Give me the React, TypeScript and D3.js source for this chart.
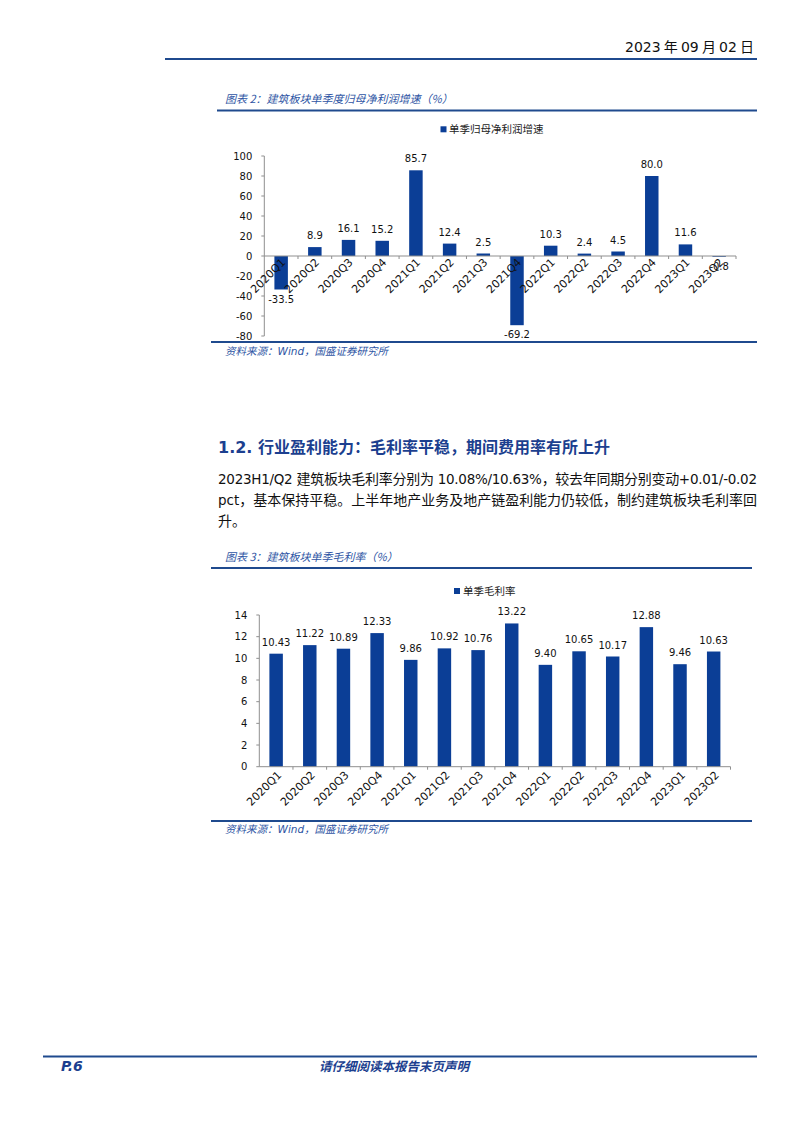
import React from "react";
import * as d3 from "d3";

const categories = ["2020Q1","2020Q2","2020Q3","2020Q4","2021Q1","2021Q2","2021Q3","2021Q4","2022Q1","2022Q2","2022Q3","2022Q4","2023Q1","2023Q2"];
const profitGrowth = [-33.5, 8.9, 16.1, 15.2, 85.7, 12.4, 2.5, -69.2, 10.3, 2.4, 4.5, 80.0, 11.6, -0.8];
const grossMargin = [10.43, 11.22, 10.89, 12.33, 9.86, 10.92, 10.76, 13.22, 9.40, 10.65, 10.17, 12.88, 9.46, 10.63];
const profitTicks = [-80, -60, -40, -20, 0, 20, 40, 60, 80, 100];
const marginTicks = [0, 2, 4, 6, 8, 10, 12, 14];

const BAR = "#0B3E96";
const LINE = "#1F4A8E";
const TITLE = "#2E55A4";
const AXIS = "#8f8f8f";
const NUM_FONT = "'DejaVu Sans', Verdana, sans-serif";
const CJK = "'Noto Sans CJK SC', sans-serif";

type ChartProps = {
  values: number[];
  yTicks: number[];
  domain: [number, number];
  xRange: [number, number];
  yRange: [number, number];
  digits: number;
  labelDx: number;
  labelDy: number;
};

function BarChart({ values, yTicks, domain, xRange, yRange, digits, labelDx, labelDy }: ChartProps) {
  const x = d3.scaleBand<string>().domain(categories).range(xRange).paddingInner(0.6).paddingOuter(0.3);
  const y = d3.scaleLinear().domain(domain).range(yRange);
  const y0 = y(0);
  const step = x.step();
  return (
    <g>
      {values.map((v, i) => {
        const c = categories[i];
        const top = Math.min(y(v), y0);
        const h = Math.abs(y(v) - y0);
        return <rect key={c} x={x(c)} y={top} width={x.bandwidth()} height={h} fill={BAR} />;
      })}
      <line x1={xRange[0]} x2={xRange[0]} y1={yRange[0]} y2={yRange[1]} stroke={AXIS} strokeWidth={1} />
      {yTicks.map((t) => (
        <g key={t}>
          <line x1={xRange[0] - 3} x2={xRange[0]} y1={y(t)} y2={y(t)} stroke={AXIS} />
          <text x={xRange[0] - 12} y={y(t)} dy="0.35em" textAnchor="end" fontFamily={NUM_FONT} fontSize={10} fill="#111">{t}</text>
        </g>
      ))}
      <line x1={xRange[0]} x2={xRange[1]} y1={y0} y2={y0} stroke={AXIS} strokeWidth={1} />
      {categories.map((c, i) => (
        <line key={"t" + c} x1={xRange[0] + step * (i + 1)} x2={xRange[0] + step * (i + 1)} y1={y0} y2={y0 + 3} stroke={AXIS} />
      ))}
      {categories.map((c) => {
        const cx = (x(c) as number) + x.bandwidth() / 2 + labelDx;
        const cy = y0 + labelDy;
        return (
          <text key={"l" + c} x={cx} y={cy} textAnchor="end" transform={`rotate(-45 ${cx} ${cy})`} fontFamily={NUM_FONT} fontSize={11} fill="#111">{c}</text>
        );
      })}
      {values.map((v, i) => {
        const c = categories[i];
        const cx = (x(c) as number) + x.bandwidth() / 2;
        const ly = v >= 0 ? y(v) - 8 : y(v) + 13;
        return (
          <text key={"v" + c} x={cx} y={ly} textAnchor="middle" fontFamily={NUM_FONT} fontSize={10} fill="#111">{v.toFixed(digits)}</text>
        );
      })}
    </g>
  );
}

export default function App() {
  return (
    <svg width={802} height={1133} style={{ position: "absolute", left: 0, top: 0, display: "block", background: "#fff" }}>
      <text x={754} y={52} textAnchor="end" fontFamily={NUM_FONT} fontSize={14} fill="#111">
        2023<tspan fontFamily={CJK}> 年 </tspan>09<tspan fontFamily={CJK}> 月 </tspan>02<tspan fontFamily={CJK}> 日</tspan>
      </text>
      <line x1={165} x2={757} y1={59} y2={59} stroke={LINE} strokeWidth={2} />

      <text x={225} y={103} fontFamily={CJK} fontStyle="italic" fontSize={11} fill={TITLE}>图表 2：建筑板块单季度归母净利润增速（%）</text>
      <line x1={217} x2={757} y1={110.5} y2={110.5} stroke={LINE} strokeWidth={2} />
      <rect x={440.5} y={126.3} width={6} height={6} fill={BAR} />
      <text x={449} y={133} fontFamily={CJK} fontSize={10.5} fill="#222">单季归母净利润增速</text>
      <BarChart values={profitGrowth} yTicks={profitTicks} domain={[-80, 100]} xRange={[264.3, 736]} yRange={[336, 156]} digits={1} labelDx={5} labelDy={7} />
      <line x1={211} x2={757} y1={342} y2={342} stroke={LINE} strokeWidth={2} />
      <text x={225} y={354.5} fontFamily={CJK} fontStyle="italic" fontSize={10.5} fill={TITLE}>资料来源：<tspan fontFamily={NUM_FONT}>Wind</tspan>，国盛证券研究所</text>

      <text x={218} y={453} fontFamily={CJK} fontWeight="bold" fontSize={16} fill="#1C3F8F">
        <tspan fontFamily={NUM_FONT}>1.2. </tspan>行业盈利能力：毛利率平稳，期间费用率有所上升
      </text>
      <text x={218} y={484} fontFamily={CJK} fontSize={14} fill="#111" textLength={539} lengthAdjust="spacing">
        <tspan fontFamily={NUM_FONT} fontSize={13.5}>2023H1/Q2 </tspan>建筑板块毛利率分别为<tspan fontFamily={NUM_FONT} fontSize={13.5}> 10.08%/10.63%</tspan>，较去年同期分别变动<tspan fontFamily={NUM_FONT} fontSize={13.5}>+0.01/-0.02</tspan>
      </text>
      <text x={218} y={505} fontFamily={CJK} fontSize={14} fill="#111" textLength={539} lengthAdjust="spacing">
        <tspan fontFamily={NUM_FONT} fontSize={13.5}>pct</tspan>，基本保持平稳。上半年地产业务及地产链盈利能力仍较低，制约建筑板块毛利率回
      </text>
      <text x={218} y={526} fontFamily={CJK} fontSize={14} fill="#111">升。</text>

      <text x={225} y={561} fontFamily={CJK} fontStyle="italic" fontSize={11} fill={TITLE}>图表 3：建筑板块单季毛利率（%）</text>
      <line x1={211} x2={752} y1={568} y2={568} stroke={LINE} strokeWidth={2} />
      <rect x={454} y={588} width={6} height={6} fill={BAR} />
      <text x={463} y={595} fontFamily={CJK} fontSize={10.5} fill="#222">单季毛利率</text>
      <BarChart values={grossMargin} yTicks={marginTicks} domain={[0, 14]} xRange={[259.3, 730.5]} yRange={[766.7, 615]} digits={2} labelDx={6} labelDy={9} />
      <line x1={211} x2={752} y1={821} y2={821} stroke={LINE} strokeWidth={2} />
      <text x={225} y={833} fontFamily={CJK} fontStyle="italic" fontSize={10.5} fill={TITLE}>资料来源：<tspan fontFamily={NUM_FONT}>Wind</tspan>，国盛证券研究所</text>

      <line x1={43} x2={757} y1={1056.5} y2={1056.5} stroke={LINE} strokeWidth={2} />
      <text x={61} y={1071} fontFamily={NUM_FONT} fontWeight="bold" fontStyle="italic" fontSize={14} fill="#1C3F8F">P.6</text>
      <text x={394} y={1071} textAnchor="middle" fontFamily={CJK} fontWeight="bold" fontStyle="italic" fontSize={12.5} fill="#1C3F8F">请仔细阅读本报告末页声明</text>
    </svg>
  );
}
